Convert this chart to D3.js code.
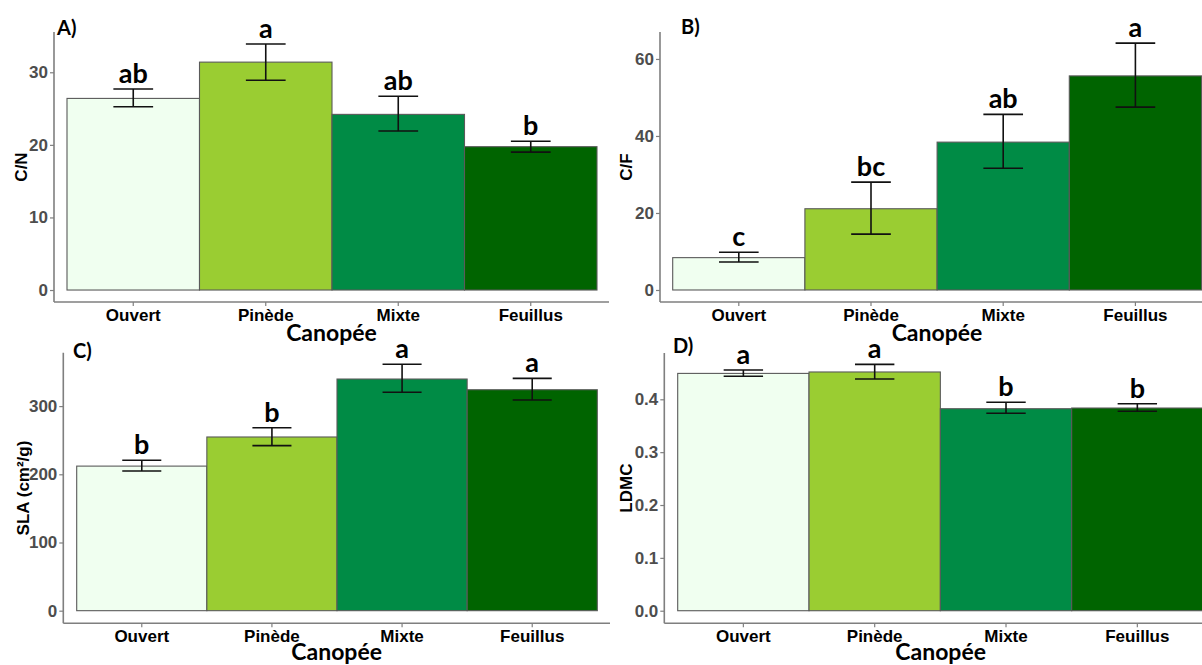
<!DOCTYPE html>
<html>
<head>
<meta charset="utf-8">
<script src="https://cdn.jsdelivr.net/npm/d3@7"></script>
<style>
  html, body { margin: 0; padding: 0; background: #ffffff; }
  svg { display: block; }
</style>
</head>
<body>
<svg id="chart" width="1202" height="665"></svg>
<script>
// ---------------- DATA ----------------
const categories = ["Ouvert", "Pinède", "Mixte", "Feuillus"];
const barColors = ["#F0FFF0", "#9ACD32", "#008B45", "#006400"];

const cnMean = [26.4, 31.4, 24.2, 19.75];
const cnLow = [25.25, 28.9, 21.9, 19.0];
const cnHigh = [27.7, 33.9, 26.7, 20.5];
const cnLetters = ["ab", "a", "ab", "b"];
const cnTicks = [0, 10, 20, 30];

const cfMean = [8.4, 21.1, 38.4, 55.6];
const cfLow = [7.27, 14.5, 31.6, 47.5];
const cfHigh = [9.8, 28.0, 45.6, 64.1];
const cfLetters = ["c", "bc", "ab", "a"];
const cfTicks = [0, 20, 40, 60];

const slaMean = [212, 254.7, 339.7, 324];
const slaLow = [204.8, 242, 320.2, 309];
const slaHigh = [220.5, 268.3, 361.3, 340.7];
const slaLetters = ["b", "b", "a", "a"];
const slaTicks = [0, 100, 200, 300];

const ldmcMean = [0.449, 0.4517, 0.3822, 0.3835];
const ldmcLow = [0.4435, 0.4384, 0.3735, 0.3773];
const ldmcHigh = [0.4554, 0.466, 0.3943, 0.3917];
const ldmcLetters = ["a", "a", "b", "b"];
const ldmcTicks = [0, 0.1, 0.2, 0.3, 0.4];

const xTitle = "Canopée";

// ---------------- PANELS (layout) ----------------
const panels = [
  { tag: "A)", yTitle: "C/N", mean: cnMean, low: cnLow, high: cnHigh, letters: cnLetters,
    ticks: cnTicks, fmt: d3.format("d"), domain: [-1.65, 35.55],
    axisX: [54, 609], band: [67, 597], axisY: [302, 32], tagPos: [57, 35], yTitleX: 21, xTitleY: 341 },
  { tag: "B)", yTitle: "C/F", mean: cfMean, low: cfLow, high: cfHigh, letters: cfLetters,
    ticks: cfTicks, fmt: d3.format("d"), domain: [-3.12, 67.0],
    axisX: [660, 1214], band: [672.7, 1201.5], axisY: [302, 32], tagPos: [681, 34], yTitleX: 626, xTitleY: 341 },
  { tag: "C)", yTitle: "SLA (cm²/g)", mean: slaMean, low: slaLow, high: slaHigh, letters: slaLetters,
    ticks: slaTicks, fmt: d3.format("d"), domain: [-18.5, 378.3],
    axisX: [63.3, 610], band: [76.7, 597.3], axisY: [623.3, 352.7], tagPos: [73, 358], yTitleX: 23, xTitleY: 660 },
  { tag: "D)", yTitle: "LDMC", mean: ldmcMean, low: ldmcLow, high: ldmcHigh, letters: ldmcLetters,
    ticks: ldmcTicks, fmt: d3.format(".1f"), domain: [-0.0238, 0.4876],
    axisX: [664.3, 1217], band: [677.7, 1203], axisY: [623.3, 353], tagPos: [673, 353], yTitleX: 626, xTitleY: 660 }
];

const svg = d3.select("#chart");
const axisGrey = "#7f7f7f";
const tickTextGrey = "#4D4D4D";

panels.forEach(p => {
  const g = svg.append("g");
  const x = d3.scaleBand().domain(categories).range(p.band).paddingInner(0).paddingOuter(0);
  const y = d3.scaleLinear().domain(p.domain).range(p.axisY);

  const rows = categories.map((c, i) => ({
    cat: c, mean: p.mean[i], low: p.low[i], high: p.high[i], letter: p.letters[i], color: barColors[i]
  }));

  // bars
  g.selectAll("rect.bar").data(rows).enter().append("rect")
    .attr("class", "bar")
    .attr("x", d => x(d.cat))
    .attr("width", x.bandwidth())
    .attr("y", d => y(d.mean))
    .attr("height", d => y(0) - y(d.mean))
    .attr("fill", d => d.color)
    .attr("stroke", "#5a5a5a")
    .attr("stroke-width", 1.1);

  // error bars
  const capW = x.bandwidth() * 0.3;
  const eb = g.selectAll("g.err").data(rows).enter().append("g").attr("class", "err")
    .attr("stroke", "#111").attr("stroke-width", 1.6).attr("fill", "none");
  eb.append("line")
    .attr("x1", d => x(d.cat) + x.bandwidth() / 2).attr("x2", d => x(d.cat) + x.bandwidth() / 2)
    .attr("y1", d => y(d.low)).attr("y2", d => y(d.high));
  eb.append("line")
    .attr("x1", d => x(d.cat) + x.bandwidth() / 2 - capW / 2).attr("x2", d => x(d.cat) + x.bandwidth() / 2 + capW / 2)
    .attr("y1", d => y(d.high)).attr("y2", d => y(d.high));
  eb.append("line")
    .attr("x1", d => x(d.cat) + x.bandwidth() / 2 - capW / 2).attr("x2", d => x(d.cat) + x.bandwidth() / 2 + capW / 2)
    .attr("y1", d => y(d.low)).attr("y2", d => y(d.low));

  // significance letters
  g.selectAll("text.sig").data(rows).enter().append("text")
    .attr("class", "sig")
    .attr("x", d => x(d.cat) + x.bandwidth() / 2)
    .attr("y", d => y(d.high) - 6)
    .attr("text-anchor", "middle")
    .attr("font-family", "Lato, 'Open Sans', sans-serif")
    .attr("font-weight", 700)
    .attr("font-size", 27)
    .attr("fill", "#000")
    .text(d => d.letter);

  // y axis
  const yAxis = d3.axisLeft(y).tickValues(p.ticks).tickFormat(p.fmt).tickSize(4).tickPadding(2);
  const ya = g.append("g").attr("transform", `translate(${p.axisX[0]},0)`).call(yAxis);
  ya.select(".domain").remove();
  ya.selectAll(".tick line").attr("stroke", axisGrey).attr("stroke-width", 1.2);
  ya.selectAll(".tick text")
    .attr("font-family", "'Liberation Sans', Arial, sans-serif")
    .attr("font-weight", 700).attr("font-size", 17).attr("fill", tickTextGrey);

  // x axis ticks and labels
  const xAxis = d3.axisBottom(x).tickSize(4).tickPadding(3);
  const xa = g.append("g").attr("transform", `translate(0,${p.axisY[0]})`).call(xAxis);
  xa.select(".domain").remove();
  xa.selectAll(".tick line").attr("stroke", axisGrey).attr("stroke-width", 1.2);
  xa.selectAll(".tick text")
    .attr("font-family", "'Liberation Sans', Arial, sans-serif")
    .attr("font-weight", 700).attr("font-size", 17).attr("fill", "#000");

  // axis lines
  g.append("line")
    .attr("x1", p.axisX[0]).attr("x2", p.axisX[0])
    .attr("y1", p.axisY[1]).attr("y2", p.axisY[0])
    .attr("stroke", axisGrey).attr("stroke-width", 1.6);
  g.append("line")
    .attr("x1", p.axisX[0]).attr("x2", p.axisX[1])
    .attr("y1", p.axisY[0]).attr("y2", p.axisY[0])
    .attr("stroke", axisGrey).attr("stroke-width", 1.6);

  // panel tag
  g.append("text")
    .attr("x", p.tagPos[0]).attr("y", p.tagPos[1])
    .attr("font-family", "Lato, 'Open Sans', sans-serif")
    .attr("font-weight", 700).attr("font-size", 20).attr("fill", "#000")
    .text(p.tag);

  // y title
  const yMid = (p.axisY[0] + p.axisY[1]) / 2;
  g.append("text")
    .attr("transform", `translate(${p.yTitleX},${yMid}) rotate(-90)`)
    .attr("text-anchor", "middle")
    .attr("dy", "0.36em")
    .attr("font-family", "'Liberation Sans', Arial, sans-serif")
    .attr("font-weight", 700).attr("font-size", 17).attr("fill", "#000")
    .text(p.yTitle);

  // x title
  g.append("text")
    .attr("x", (p.axisX[0] + p.axisX[1]) / 2)
    .attr("y", p.xTitleY)
    .attr("text-anchor", "middle")
    .attr("font-family", "Lato, 'Open Sans', sans-serif")
    .attr("font-weight", 700).attr("font-size", 23).attr("fill", "#000")
    .text(xTitle);
});
</script>
</body>
</html>
